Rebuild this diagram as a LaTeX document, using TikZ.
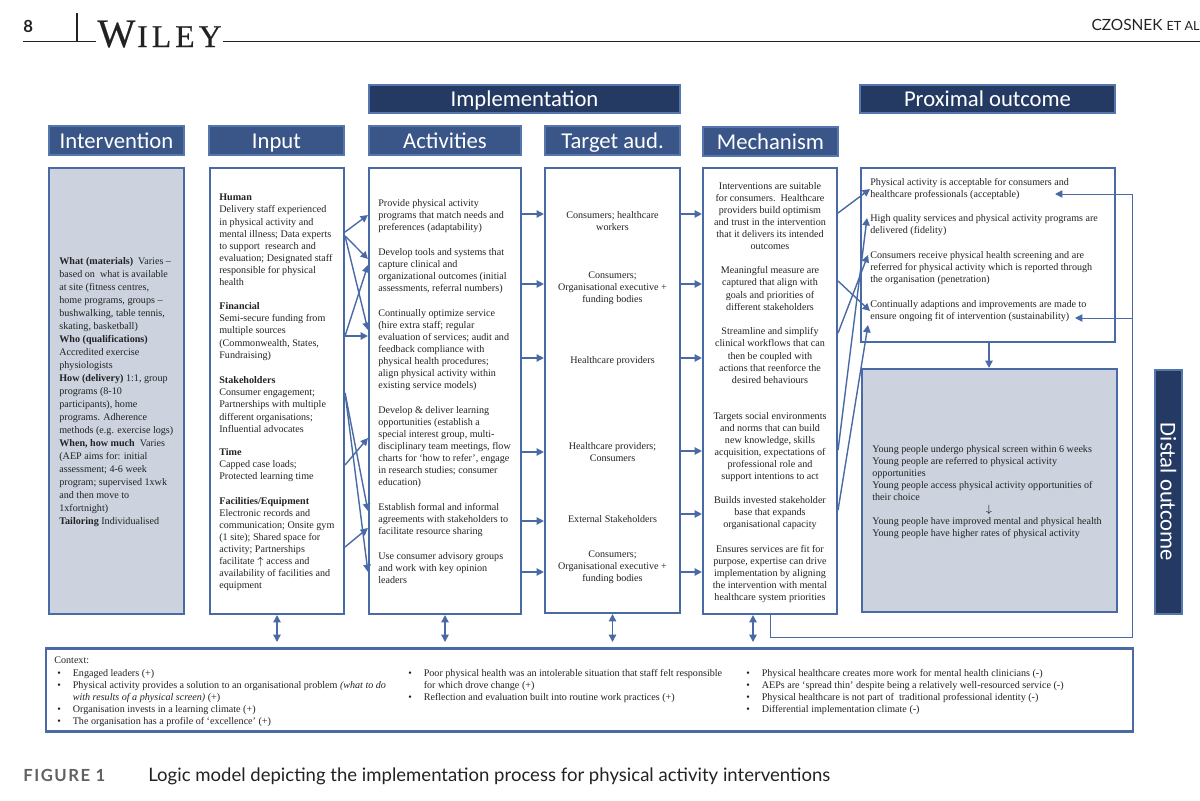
\documentclass[tikz,border=0pt]{standalone}
\usepackage{amsmath}
\usepackage{fontspec}
\usetikzlibrary{arrows.meta}
\setmainfont{Liberation Serif}
\newfontfamily\headfont{Carlito}
\newfontfamily\pagefont{Lato}
\newfontfamily\figfont[LetterSpace=9]{Lato}
\newfontfamily\wfont[FakeBold=0.4]{Liberation Serif}
\newfontfamily\wileyfont[LetterSpace=13,FakeBold=0.4]{Liberation Serif}
\definecolor{linecol}{HTML}{4A6AA6}
\definecolor{headfill}{HTML}{3A5587}
\definecolor{headedge}{HTML}{5577AD}
\definecolor{navy}{HTML}{253A63}
\definecolor{panel}{HTML}{CCD3DE}
\definecolor{ink}{HTML}{222222}
\newcommand{\ctxitem}[1]{\makebox[8.8pt][l]{\textbullet}#1}
\begin{document}
\begin{tikzpicture}[x=0.02cm,y=-0.02cm,
    title/.style={draw=headedge,fill=headfill,text=white,line width=0.9pt,inner sep=0pt,
      text height=10.4pt,text depth=1.8pt,font=\headfont\fontsize{12.9}{14}\selectfont},
    bigtitle/.style={title,fill=navy},
    panelbox/.style={draw=linecol,line width=1.2pt,inner sep=0pt},
    txt/.style={font=\fontsize{5.75}{6.9}\selectfont,text=ink,align=left,inner sep=0pt,anchor=west},
    midtxt/.style={txt,align=center,anchor=center},
    flow/.style={draw=linecol,line width=0.8pt,-{Triangle[length=4.2pt,width=4.2pt]}},
    both/.style={draw=linecol,line width=0.8pt,{Triangle[length=4.2pt,width=4.2pt]}-{Triangle[length=4.2pt,width=4.2pt]}}]
  \useasboundingbox (0,0) rectangle (1200,801);

  % page head
  \node[anchor=base west,inner sep=0pt,font=\pagefont\bfseries\fontsize{9.5}{11}\selectfont,text=ink] (pageno) at (23,32) {8};
  \node[anchor=base west,inner sep=0pt,text=ink] (wiley) at (97,47)
    {\wfont\fontsize{23}{23}\selectfont W\kern1pt\wileyfont\fontsize{18}{18}\selectfont ILEY};
  \node[anchor=base east,inner sep=0pt,font=\pagefont\fontsize{8.8}{11}\selectfont,text=ink] (runhead) at (1200,31)
    {CZOSNEK {\fontsize{7.2}{11}\selectfont ET AL}};
  \draw[line width=0.8pt,ink] (23,41.5) -- (96,41.5);
  \draw[line width=0.8pt,ink] (223,41.5) -- (1200,41.5);
  \draw[line width=0.7pt,ink] (77,13) -- (77,41.5);

  % titles
  \node[bigtitle,minimum width=6.22cm,minimum height=0.56cm] (impl) at (524.5,99) {Implementation};
  \node[bigtitle,minimum width=5.1cm,minimum height=0.56cm] (prox) at (987.5,99) {Proximal outcome};
  \node[title,minimum width=2.7cm,minimum height=0.58cm] (interv) at (116.5,140.5) {Intervention};
  \node[title,minimum width=2.7cm,minimum height=0.58cm] (input) at (276.5,140.5) {Input};
  \node[title,minimum width=3.04cm,minimum height=0.58cm] (activ) at (445,140.5) {Activities};
  \node[title,minimum width=2.7cm,minimum height=0.58cm] (target) at (612.5,140.5) {Target aud.};
  \node[title,minimum width=2.7cm,minimum height=0.58cm] (mech) at (770.5,141.5) {Mechanism};

  % panels
  \node[panelbox,fill=panel,minimum width=2.7cm,minimum height=8.92cm] (intervbox) at (116.5,391) {};
  \node[panelbox,minimum width=2.68cm,minimum height=8.92cm] (inputbox) at (277,391) {};
  \node[panelbox,minimum width=3.04cm,minimum height=8.92cm] (activbox) at (445,391) {};
  \node[panelbox,minimum width=2.7cm,minimum height=8.9cm] (targetbox) at (612.5,390.5) {};
  \node[panelbox,minimum width=2.68cm,minimum height=8.92cm] (mechbox) at (770,391) {};
  \node[panelbox,minimum width=5.08cm,minimum height=3.48cm] (proxbox) at (988,255) {};
  \node[panelbox,fill=panel,minimum width=5.1cm,minimum height=4.86cm] (distbox) at (989.5,490.5) {};
  \node[draw=headedge,fill=navy,text=white,line width=0.9pt,inner sep=0pt,minimum width=0.54cm,minimum height=4.88cm] (distbar) at (1168.5,492) {};
  \node[rotate=-90,text=white,inner sep=0pt,font=\headfont\fontsize{12.9}{14}\selectfont] (disttxt) at (1168.5,492) {Distal outcome};
  \node[panelbox,minimum width=21.74cm,minimum height=1.66cm] (ctxbox) at (589.5,690) {};

  % intervention
  \node[txt,font=\fontsize{5.75}{7.4}\selectfont] (what) at (59,392)
    {\textbf{What (materials)}\ \ Varies --\\ based on\ \ what is available\\ at site (fitness centres,\\
     home programs, groups --\\ bushwalking, table tennis,\\ skating, basketball)\\
     \textbf{Who (qualifications)}\\ Accredited exercise\\ physiologists\\
     \textbf{How (delivery)} 1:1, group\\ programs (8-10\\ participants), home\\
     programs. Adherence\\ methods (e.g. exercise logs)\\
     \textbf{When, how much}\ \ Varies\\ (AEP aims for: initial\\ assessment; 4-6 week\\
     program; supervised 1xwk\\ and then move to\\ 1xfortnight)\\ \textbf{Tailoring} Individualised};

  % input
  \node[txt] (human) at (219,240)
    {\textbf{Human}\\ Delivery staff experienced\\ in physical activity and\\ mental illness; Data experts\\
     to support\ \ research and\\ evaluation; Designated staff\\ responsible for physical\\ health};
  \node[txt] (fin) at (219,331.5)
    {\textbf{Financial}\\ Semi-secure funding from\\ multiple sources\\ (Commonwealth, States,\\ Fundraising)};
  \node[txt] (stake) at (219,404.5)
    {\textbf{Stakeholders}\\ Consumer engagement;\\ Partnerships with multiple\\ different organisations;\\ Influential advocates};
  \node[txt] (time) at (219,465)
    {\textbf{Time}\\ Capped case loads;\\ Protected learning time};
  \node[txt] (facil) at (219,544)
    {\textbf{Facilities/Equipment}\\ Electronic records and\\ communication; Onsite gym\\ (1 site); Shared space for\\
     activity; Partnerships\\ facilitate $\uparrow$ access and\\ availability of facilities and\\ equipment};

  % activities
  \node[txt] (act1) at (378,216)
    {Provide physical activity\\ programs that match needs and\\ preferences (adaptability)};
  \node[txt] (act2) at (378,271)
    {Develop tools and systems that\\ capture clinical and\\ organizational outcomes (initial\\ assessments, referral numbers)};
  \node[txt] (act3) at (378,350)
    {Continually optimize service\\ (hire extra staff; regular\\ evaluation of services; audit and\\
     feedback compliance with\\ physical health procedures;\\ align physical activity within\\ existing service models)};
  \node[txt] (act4) at (378,447)
    {Develop \& deliver learning\\ opportunities (establish a\\ special interest group, multi-\\
     disciplinary team meetings, flow\\ charts for `how to refer', engage\\ in research studies; consumer\\ education)};
  \node[txt] (act5) at (378,520)
    {Establish formal and informal\\ agreements with stakeholders to\\ facilitate resource sharing};
  \node[txt] (act6) at (378,568)
    {Use consumer advisory groups\\ and work with key opinion\\ leaders};

  % target audience
  \node[midtxt] (aud1) at (612.5,221) {Consumers; healthcare\\ workers};
  \node[midtxt] (aud2) at (612.5,288) {Consumers;\\ Organisational executive +\\ funding bodies};
  \node[midtxt] (aud3) at (612.5,361) {Healthcare providers};
  \node[midtxt] (aud4) at (612.5,452) {Healthcare providers;\\ Consumers};
  \node[midtxt] (aud5) at (612.5,519) {External Stakeholders};
  \node[midtxt] (aud6) at (612.5,567) {Consumers;\\ Organisational executive +\\ funding bodies};

  % mechanism
  \node[midtxt] (mech1) at (770,216)
    {Interventions are suitable\\ for consumers.\ \ Healthcare\\ providers build optimism\\
     and trust in the intervention\\ that it delivers its intended\\ outcomes};
  \node[midtxt] (mech2) at (770,288.5)
    {Meaningful measure are\\ captured that align with\\ goals and priorities of\\ different stakeholders};
  \node[midtxt] (mech3) at (770,355.5)
    {Streamline and simplify\\ clinical workflows that can\\ then be coupled with\\ actions that reenforce the\\ desired behaviours};
  \node[midtxt] (mech4) at (770,447)
    {Targets social environments\\ and norms that can build\\ new knowledge, skills\\ acquisition, expectations of\\
     professional role and\\ support intentions to act};
  \node[midtxt] (mech5) at (770,513)
    {Builds invested stakeholder\\ base that expands\\ organisational capacity};
  \node[midtxt] (mech6) at (770,574)
    {Ensures services are fit for\\ purpose, expertise can drive\\ implementation by aligning\\
     the intervention with mental\\ healthcare system priorities};

  % proximal outcome
  \node[txt] (prox1) at (870,189)
    {Physical activity is acceptable for consumers and\\ healthcare professionals (acceptable)};
  \node[txt] (prox2) at (870,225)
    {High quality services and physical activity programs are\\ delivered (fidelity)};
  \node[txt] (prox3) at (870,268)
    {Consumers receive physical health screening and are\\ referred for physical activity which is reported through\\ the organisation (penetration)};
  \node[txt] (prox4) at (870,311)
    {Continually adaptions and improvements are made to\\ ensure ongoing fit of intervention (sustainability)};

  % distal outcome
  \node[txt] (dist1) at (872,473)
    {Young people undergo physical screen within 6 weeks\\ Young people are referred to physical activity\\ opportunities\\
     Young people access physical activity opportunities of\\ their choice};
  \node[txt,anchor=center] (distarrow) at (989,510) {$\downarrow$};
  \node[txt] (dist2) at (872,528)
    {Young people have improved mental and physical health\\ Young people have higher rates of physical activity};

  % context
  \node[txt] (ctx) at (54,660) {Context:};
  \node[txt,anchor=north west] (ctx1) at (57,669)
    {\ctxitem{Engaged leaders (+)}\\
     \ctxitem{Physical activity provides a solution to an organisational problem \textit{(what to do}}\\
     \hspace*{8.8pt}\textit{with results of a physical screen)} (+)\\
     \ctxitem{Organisation invests in a learning climate (+)}\\
     \ctxitem{The organisation has a profile of `excellence' (+)}};
  \node[txt,anchor=north west] (ctx2) at (408,669)
    {\ctxitem{Poor physical health was an intolerable situation that staff felt responsible}\\
     \hspace*{8.8pt}for which drove change (+)\\
     \ctxitem{Reflection and evaluation built into routine work practices (+)}};
  \node[txt,anchor=north west] (ctx3) at (746,669)
    {\ctxitem{Physical healthcare creates more work for mental health clinicians (-)}\\
     \ctxitem{AEPs are `spread thin' despite being a relatively well-resourced service (-)}\\
     \ctxitem{Physical healthcare is not part of\ \ traditional professional identity (-)}\\
     \ctxitem{Differential implementation climate (-)}};

  % caption
  \node[anchor=base west,inner sep=0pt,font=\figfont\bfseries\fontsize{9.5}{12}\selectfont,text=black!62] (figlabel) at (23,781) {FIGURE 1};
  \node[anchor=base west,inner sep=0pt,font=\pagefont\fontsize{10.55}{12}\selectfont,text=ink] (figcap) at (148,781)
    {Logic model depicting the implementation process for physical activity interventions};

  % input to activities
  \draw[flow] (inputbox.east |- 0,232) -- (activbox.west |- 0,215);
  \draw[flow] (inputbox.east |- 0,236) -- (activbox.west |- 0,259);
  \draw[flow] (inputbox.east |- 0,236) -- (activbox.west |- 0,330);
  \draw[flow] (inputbox.east |- 0,336) -- (activbox.west |- 0,265);
  \draw[flow] (inputbox.east |- 0,336) -- (activbox.west |- 0,336);
  \draw[flow] (inputbox.east |- 0,393) -- (activbox.west |- 0,511);
  \draw[flow] (inputbox.east |- 0,393) -- (activbox.west |- 0,572);
  \draw[flow] (inputbox.east |- 0,465) -- (activbox.west |- 0,438);
  \draw[flow] (inputbox.east |- 0,547) -- (activbox.west |- 0,528);

  % activities to target
  \draw[flow] (activbox.east |- 0,214) -- (targetbox.west |- 0,214);
  \draw[flow] (activbox.east |- 0,284) -- (targetbox.west |- 0,284);
  \draw[flow] (activbox.east |- 0,358) -- (targetbox.west |- 0,358);
  \draw[flow] (activbox.east |- 0,452) -- (targetbox.west |- 0,452);
  \draw[flow] (activbox.east |- 0,521) -- (targetbox.west |- 0,521);
  \draw[flow] (activbox.east |- 0,572) -- (targetbox.west |- 0,572);

  % target to mechanism
  \draw[flow] (targetbox.east |- 0,214) -- (mechbox.west |- 0,214);
  \draw[flow] (targetbox.east |- 0,284) -- (mechbox.west |- 0,284);
  \draw[flow] (targetbox.east |- 0,358) -- (mechbox.west |- 0,358);
  \draw[flow] (targetbox.east |- 0,451) -- (mechbox.west |- 0,451);
  \draw[flow] (targetbox.east |- 0,514) -- (mechbox.west |- 0,514);
  \draw[flow] (targetbox.east |- 0,572) -- (mechbox.west |- 0,572);

  % mechanism to proximal outcome
  \draw[flow] (mechbox.east |- 0,213) -- (prox1.west);
  \draw[flow] (mechbox.east |- 0,281) -- (prox4.west);
  \draw[flow] (mechbox.east |- 0,333) -- (868,255);
  \draw[flow] (mechbox.east |- 0,450) -- (867,218);
  \draw[flow] (mechbox.east |- 0,510) -- (868,325);

  % return path
  \coordinate (retcorner) at (1132,637);
  \coordinate (rettop) at (1132,194);
  \coordinate (retmid) at (1132,318);
  \draw[draw=linecol,line width=0.55pt] (mechbox.south) |- (retcorner) -- (rettop);
  \draw[flow,line width=0.55pt] (rettop) -- (1055,194);
  \draw[flow,line width=0.55pt] (retmid) -- (1075,318);

  % proximal to distal
  \draw[flow] (proxbox.south -| distarrow) -- (distbox.north -| distarrow);

  % context links
  \draw[both] (inputbox.south) -- (inputbox.south |- 0,642);
  \draw[both] (activbox.south) -- (activbox.south |- 0,642);
  \draw[both] (targetbox.south) -- (targetbox.south |- 0,642);
  \draw[both] (753,0 |- mechbox.south) -- (753,642);
\end{tikzpicture}
\end{document}
